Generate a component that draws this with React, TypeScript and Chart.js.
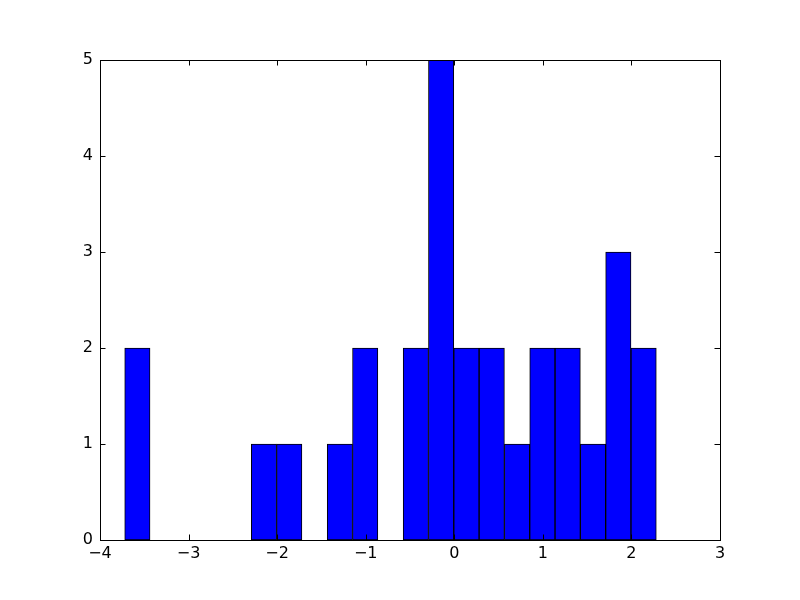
import React, { useEffect, useRef } from "react";
import { Chart, registerables } from "chart.js";

Chart.register(...registerables);

const binStart = -3.721;
const binWidth = 0.2858;
const counts = [2, 0, 0, 0, 0, 1, 1, 0, 1, 2, 0, 2, 5, 2, 2, 1, 2, 2, 1, 3, 2];
const xTicks = [-4, -3, -2, -1, 0, 1, 2, 3];
const yTicks = [0, 1, 2, 3, 4, 5];

const fmt = (v: number) => String(v).replace("-", "\u2212");

const framePlugin = {
  id: "frameTicks",
  afterDraw(chart: any) {
    const { ctx, chartArea } = chart;
    const { left, right, top, bottom } = chartArea;
    const xs = chart.scales.x;
    const ys = chart.scales.y;
    const tl = 5.5;
    ctx.save();
    ctx.strokeStyle = "#000";
    ctx.lineWidth = 1;
    ctx.beginPath();
    for (const t of xTicks) {
      const px = Math.round(xs.getPixelForValue(t)) + 0.5;
      ctx.moveTo(px, bottom);
      ctx.lineTo(px, bottom - tl);
      ctx.moveTo(px, top);
      ctx.lineTo(px, top + tl);
    }
    for (const t of yTicks) {
      const py = Math.round(ys.getPixelForValue(t)) + 0.5;
      ctx.moveTo(left, py);
      ctx.lineTo(left + tl, py);
      ctx.moveTo(right, py);
      ctx.lineTo(right - tl, py);
    }
    ctx.stroke();
    ctx.strokeRect(Math.round(left) + 0.5, Math.round(top) + 0.5, Math.round(right - left), Math.round(bottom - top));
    ctx.restore();
  },
};

export default function App() {
  const ref = useRef<HTMLCanvasElement>(null);
  useEffect(() => {
    if (!ref.current) return;
    const data = counts
      .map((c, i) => ({ x: binStart + (i + 0.5) * binWidth, y: c }))
      .filter((d) => d.y > 0);
    const font = { family: "DejaVu Sans", size: 16 };
    const chart = new Chart(ref.current, {
      type: "bar",
      data: {
        datasets: [
          {
            data,
            backgroundColor: "#0000ff",
            borderColor: "#000000",
            borderWidth: 1,
            borderSkipped: false,
            barPercentage: 1,
            categoryPercentage: 1,
          } as any,
        ],
      },
      options: {
        responsive: false,
        animation: false,
        layout: { padding: { top: 60, right: 80, left: 0, bottom: 0 } },
        plugins: { legend: { display: false }, tooltip: { enabled: false } },
        scales: {
          x: {
            type: "linear",
            min: -4,
            max: 3,
            offset: false,
            grid: { display: false, drawTicks: false },
            border: { display: false },
            afterBuildTicks: (s: any) => {
              s.ticks = xTicks.map((v) => ({ value: v }));
            },
            afterFit: (s: any) => {
              s.height = 60;
            },
            ticks: {
              color: "#000",
              font,
              padding: 4,
              maxRotation: 0,
              autoSkip: false,
              callback: (v: any) => fmt(Number(v)),
            },
          },
          y: {
            min: 0,
            max: 5,
            grid: { display: false, drawTicks: false },
            border: { display: false },
            afterBuildTicks: (s: any) => {
              s.ticks = yTicks.map((v) => ({ value: v }));
            },
            afterFit: (s: any) => {
              s.width = 100;
            },
            ticks: {
              color: "#000",
              font,
              padding: 7,
              autoSkip: false,
              callback: (v: any) => fmt(Number(v)),
            },
          },
        },
      } as any,
      plugins: [framePlugin],
    });
    return () => chart.destroy();
  }, []);
  return (
    <div style={{ position: "absolute", left: 0, top: 0, width: 800, height: 600, background: "#fff" }}>
      <canvas ref={ref} width={800} height={600} />
    </div>
  );
}
